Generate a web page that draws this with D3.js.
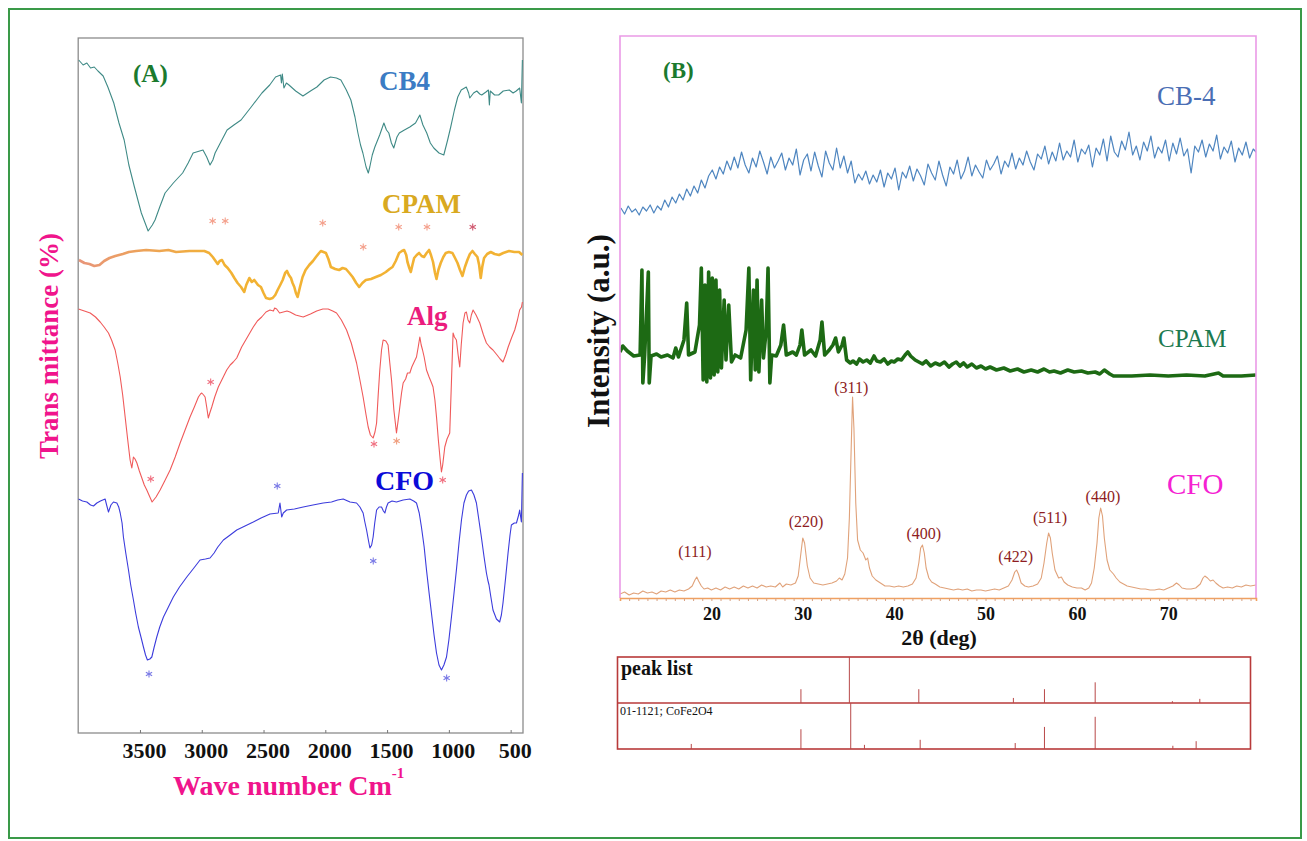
<!DOCTYPE html>
<html><head><meta charset="utf-8">
<script src="https://cdn.jsdelivr.net/npm/d3@7"></script>
<style>body{margin:0;background:#fff}svg{display:block}</style>
</head><body>
<svg id="c" width="1307" height="841"></svg>
<script>
// ---------------- DATA: FTIR (panel A) ----------------
const ftirTicks = [3500,3000,2500,2000,1500,1000,500];
// [wavenumber cm-1, transmittance (a.u., stacked)]
const ftirCB4 = [[3996,675],[3960,670],[3930,672],[3900,667],[3870,668],[3840,664],[3798,659],[3760,648],[3712,632],[3670,612],[3628,595],[3590,570],[3545,548],[3489,522],[3434,504],[3400,510],[3378,515],[3340,528],[3297,542],[3230,552],[3155,562],[3110,572],[3070,582],[2990,585],[2960,578],[2933,570],[2910,575],[2892,582],[2850,592],[2795,605],[2740,610],[2682,615],[2600,628],[2513,642],[2450,650],[2403,658],[2362,660],[2355,652],[2348,661],[2335,647],[2315,652],[2294,650],[2240,644],[2181,639],[2120,644],[2068,648],[2010,655],[1958,658],[1910,657],[1874,655],[1830,645],[1793,635],[1760,618],[1736,602],[1715,590],[1696,582],[1670,568],[1652,562],[1640,568],[1620,580],[1599,588],[1560,600],[1526,612],[1505,605],[1486,602],[1465,592],[1446,587],[1420,598],[1401,602],[1360,605],[1316,608],[1270,612],[1235,620],[1210,610],[1179,602],[1150,592],[1122,587],[1080,582],[1041,580],[1010,595],[985,608],[955,625],[928,638],[900,645],[859,648],[840,642],[831,637],[800,642],[774,644],[750,641],[734,640],[700,643],[680,645],[672,630],[665,644],[630,640],[597,640],[560,644],[511,645],[480,642],[455,644],[427,647],[413,632],[405,675]];
const ftirCPAM = [[3994,475],[3950,472],[3909,471],[3870,469],[3828,470],[3790,474],[3747,477],[3700,479],[3639,481],[3590,483],[3531,484],[3450,485],[3343,484],[3270,485],[3208,483],[3100,484],[2979,484],[2940,482],[2911,478],[2871,471],[2855,474],[2836,475],[2815,470],[2790,467],[2760,462],[2736,457],[2710,452],[2682,448],[2656,443],[2640,450],[2615,457],[2595,453],[2575,455],[2545,450],[2521,448],[2500,442],[2480,437],[2450,436],[2426,437],[2405,440],[2386,445],[2365,450],[2345,455],[2325,462],[2310,464],[2295,460],[2278,457],[2265,452],[2251,448],[2238,442],[2224,438],[2205,448],[2184,458],[2160,465],[2130,470],[2100,474],[2076,478],[2050,482],[2036,484],[2015,483],[1995,482],[1975,476],[1955,468],[1920,466],[1888,465],[1860,467],[1833,466],[1805,462],[1779,458],[1750,452],[1726,448],[1700,452],[1672,455],[1630,456],[1591,458],[1550,460],[1510,463],[1480,466],[1456,468],[1430,474],[1403,482],[1380,484],[1362,485],[1345,480],[1335,473],[1320,467],[1308,463],[1295,470],[1281,477],[1260,480],[1241,482],[1220,479],[1201,478],[1180,482],[1160,485],[1145,480],[1128,473],[1112,462],[1100,456],[1085,465],[1066,472],[1045,478],[1025,482],[1000,483],[971,482],[950,477],[930,472],[910,465],[890,459],[870,468],[850,475],[830,481],[809,484],[790,481],[769,478],[755,470],[742,457],[730,468],[715,477],[690,481],[661,483],[630,481],[594,480],[560,482],[513,484],[470,483],[432,483],[405,480]];
const ftirAlg = [[3998,426],[3950,424],[3903,422],[3860,418],[3822,413],[3790,408],[3755,402],[3730,395],[3701,385],[3680,372],[3660,358],[3640,340],[3620,318],[3600,296],[3580,275],[3566,267],[3553,278],[3540,276],[3525,272],[3505,264],[3485,257],[3465,250],[3445,245],[3420,238],[3402,233],[3370,238],[3337,245],[3300,254],[3256,265],[3215,278],[3175,292],[3135,305],[3095,318],[3060,328],[3027,338],[3010,341],[3000,342],[2985,340],[2973,338],[2960,328],[2947,317],[2935,322],[2919,328],[2895,338],[2866,348],[2830,357],[2798,365],[2770,370],[2745,373],[2717,377],[2677,388],[2630,398],[2583,408],[2550,414],[2515,418],[2480,423],[2448,425],[2420,424],[2410,427],[2394,426],[2370,422],[2340,423],[2310,424],[2286,423],[2240,420],[2179,418],[2120,421],[2070,424],[2020,426],[1977,426],[1940,424],[1909,422],[1870,415],[1828,405],[1790,392],[1747,372],[1720,355],[1694,338],[1670,320],[1653,308],[1635,300],[1613,297],[1598,303],[1585,312],[1572,340],[1559,365],[1545,385],[1532,395],[1510,394],[1492,390],[1478,372],[1464,355],[1445,325],[1424,302],[1410,315],[1397,328],[1383,342],[1370,352],[1350,356],[1335,362],[1316,362],[1300,368],[1285,372],[1262,378],[1248,388],[1235,398],[1224,390],[1213,385],[1200,378],[1181,365],[1160,358],[1140,352],[1128,348],[1113,335],[1100,318],[1085,295],[1070,275],[1060,263],[1050,270],[1033,288],[1015,296],[993,302],[980,350],[966,402],[955,398],[939,395],[925,380],[912,368],[900,390],[885,412],[870,422],[858,423],[845,415],[831,412],[818,420],[804,425],[780,420],[750,412],[720,400],[696,392],[670,388],[643,385],[610,380],[585,376],[562,373],[540,380],[520,388],[508,392],[490,398],[467,405],[445,415],[427,425],[412,428],[405,433]];
const ftirCFO = [[3998,236],[3965,234],[3930,233],[3900,230],[3876,229],[3849,232],[3820,234],[3782,236],[3770,230],[3755,223],[3735,230],[3715,233],[3687,232],[3672,228],[3660,222],[3645,212],[3634,198],[3615,182],[3593,165],[3575,150],[3553,135],[3535,122],[3513,108],[3490,97],[3472,88],[3455,80],[3440,75],[3420,76],[3404,78],[3385,88],[3364,98],[3340,108],[3310,118],[3270,128],[3230,138],[3180,148],[3121,158],[3070,166],[3014,175],[2970,176],[2933,177],[2900,182],[2870,188],[2825,195],[2770,200],[2717,205],[2650,209],[2583,213],[2520,217],[2448,221],[2381,222],[2367,232],[2353,218],[2340,222],[2313,225],[2250,226],[2179,228],[2100,230],[2017,232],[1950,233],[1900,235],[1855,236],[1800,233],[1747,232],[1720,228],[1694,222],[1680,213],[1666,205],[1650,194],[1639,187],[1625,190],[1613,198],[1600,212],[1585,225],[1565,228],[1545,228],[1530,224],[1518,222],[1505,228],[1492,232],[1460,234],[1424,233],[1370,235],[1316,236],[1285,234],[1262,232],[1240,222],[1222,208],[1200,188],[1181,165],[1160,142],[1141,122],[1120,100],[1100,82],[1080,70],[1060,65],[1040,70],[1019,78],[1000,95],[979,118],[960,140],[939,165],[918,192],[898,215],[878,232],[858,240],[840,244],[817,245],[797,240],[777,232],[757,215],[737,198],[715,178],[696,162],[685,155],[675,150],[660,138],[643,125],[615,116],[589,113],[575,120],[562,132],[540,158],[521,182],[505,200],[494,210],[470,212],[453,212],[435,220],[427,225],[413,213],[405,262]];
// asterisk marks [wavenumber, level]
const starsCPAM = [[2912,514],[2810,514],[2021,512],[1693,488],[1406,508],[1177,508],[807,508]];
const starsAlg = [[3413,256],[2928,353],[1606,291],[1423,294],[1050,255]];
const starsCFO = [[3427,61],[2389,249],[1612,174],[1018,57]];

// ---------------- DATA: XRD (panel B) ----------------
const xrdTicks = [20,30,40,50,60,70];
const cb4XrdStart = 10.1, cb4XrdStep = 0.4;
const cb4Xrd = [390,384,392,386,389,383,391,387,393,385,
392,388,398,391,401,395,404,398,409,402,
412,405,418,410,422,428,419,431,424,437,
428,441,430,446,433,425,440,431,447,436,
424,441,430,437,445,428,440,433,449,423,
438,444,427,446,432,421,447,435,428,450,
430,442,425,437,415,424,418,427,414,423,
416,428,411,425,419,430,408,426,420,432,
417,429,422,413,434,425,418,437,423,412,
431,424,438,419,427,441,422,433,426,420,
438,428,434,442,424,437,431,445,429,440,
433,447,436,428,444,439,452,434,446,437,
455,438,447,441,458,436,449,444,453,431,
450,443,459,437,462,446,441,457,448,466,
443,452,438,456,447,462,440,451,445,458,
437,455,444,460,442,449,425,452,446,458,
441,454,447,463,439,451,445,457,436,450,
443,456,440,449,445];
const cpamXrd = [[10.0,246],[10.3,252],[10.8,247],[11.5,242],[12.2,243],[12.4,328],[12.5,215],[12.7,243],[13.1,326],[13.2,215],[13.4,242],[14.0,244],[14.5,241],[15.2,243],[15.8,240],[16.1,250],[16.4,241],[17.0,258],[17.3,295],[17.5,243],[18.2,246],[18.7,273],[18.9,330],[19.1,218],[19.3,313],[19.5,216],[19.7,326],[19.9,220],[20.1,320],[20.3,223],[20.5,318],[20.7,226],[20.9,308],[21.1,230],[21.4,298],[21.6,238],[21.9,293],[22.2,236],[22.6,243],[23.2,240],[23.8,268],[24.1,330],[24.3,218],[24.6,308],[24.8,228],[25.0,318],[25.2,226],[25.5,298],[25.7,240],[26.0,268],[26.2,330],[26.4,215],[26.6,243],[27.1,242],[27.6,253],[27.9,273],[28.2,243],[28.9,246],[29.3,243],[29.7,253],[29.9,268],[30.2,243],[30.9,248],[31.4,242],[31.9,258],[32.1,276],[32.4,243],[32.9,248],[33.3,253],[33.6,260],[33.9,246],[34.3,253],[34.5,260],[34.8,238],[35.2,235],[35.5,237],[35.9,234],[36.2,239],[36.6,236],[37.0,238],[37.4,235],[37.8,242],[38.1,237],[38.5,236],[38.9,239],[39.3,234],[39.7,237],[40.0,236],[40.4,239],[40.8,238],[41.2,243],[41.5,246],[41.8,242],[42.3,238],[42.7,236],[43.1,234],[43.5,237],[44.0,232],[44.5,235],[45.0,233],[45.5,236],[46.0,231],[46.4,234],[46.8,236],[47.2,232],[47.6,235],[48.0,231],[48.5,234],[49.0,230],[49.5,232],[50.0,229],[50.5,231],[51.2,228],[52.0,230],[52.7,227],[53.5,229],[54.2,226],[55.0,228],[55.7,226],[56.4,229],[57.0,226],[57.5,227],[58.2,225],[59.0,228],[59.7,226],[60.5,227],[61.2,225],[62.0,226],[62.5,224],[63.0,228],[63.6,224],[64.0,222],[66.0,222],[68.0,223],[70.0,222],[72.0,223],[74.0,222],[75.5,225],[76.0,222],[78.0,222],[79.6,223]];
const cfoXrd = [[10.0,4],[10.5,6],[11.0,3],[11.5,5],[12.0,4],[12.5,7],[13.0,5],[13.5,6],[14.0,4],[14.5,7],[15.0,6],[15.5,8],[16.0,6],[16.5,8],[17.0,7],[17.5,9],[17.9,12],[18.2,18],[18.4,21],[18.6,17],[18.9,12],[19.2,9],[19.6,10],[20.0,8],[20.5,10],[21.0,8],[21.5,11],[22.0,9],[22.5,11],[23.0,9],[23.5,12],[24.0,10],[24.5,12],[25.0,10],[25.5,13],[26.0,11],[26.5,12],[27.0,11],[27.5,15],[27.8,11],[28.2,14],[28.7,13],[29.2,15],[29.5,22],[29.8,45],[30.0,60],[30.2,55],[30.5,32],[30.8,20],[31.2,15],[31.7,14],[32.2,13],[32.7,14],[33.2,15],[33.7,17],[34.0,20],[34.3,18],[34.6,24],[34.9,40],[35.1,80],[35.3,150],[35.45,201],[35.6,170],[35.8,95],[36.0,58],[36.3,48],[36.6,45],[36.9,38],[37.1,40],[37.3,30],[37.6,22],[38.0,18],[38.5,15],[39.0,12],[39.5,12],[40.0,11],[40.5,12],[41.0,11],[41.5,12],[42.0,14],[42.4,20],[42.7,35],[42.9,50],[43.1,53],[43.3,45],[43.5,30],[43.8,20],[44.1,16],[44.5,14],[45.0,11],[45.5,10],[46.0,9],[46.5,8],[47.0,9],[47.5,8],[48.0,9],[48.5,7],[49.0,8],[49.5,8],[50.0,7],[50.5,8],[51.0,9],[51.5,8],[52.0,10],[52.5,12],[52.9,18],[53.2,26],[53.4,28],[53.6,24],[53.9,15],[54.3,12],[54.7,11],[55.2,12],[55.7,14],[56.1,20],[56.4,35],[56.7,55],[56.9,65],[57.1,60],[57.3,45],[57.6,28],[58.0,20],[58.3,21],[58.6,16],[59.0,13],[59.5,11],[60.0,10],[60.5,10],[60.9,8],[61.3,10],[61.6,15],[61.9,30],[62.2,55],[62.4,80],[62.6,90],[62.8,82],[63.0,60],[63.3,38],[63.6,28],[64.0,24],[64.3,20],[64.7,16],[65.1,14],[65.5,12],[66.0,11],[66.5,10],[67.0,9],[67.5,9],[68.0,8],[68.5,8],[69.0,9],[69.5,8],[70.0,10],[70.5,12],[70.9,15],[71.2,13],[71.5,10],[72.0,9],[72.5,9],[73.0,10],[73.5,14],[73.8,20],[74.0,22],[74.3,20],[74.6,17],[74.9,18],[75.2,15],[75.6,12],[76.0,10],[76.5,11],[77.0,10],[77.5,12],[78.0,11],[78.5,13],[79.0,12],[79.6,13]];
const hklLabels = ["(111)","(220)","(311)","(400)","(422)","(511)","(440)"];
const hklAngle  = [18.2,30.35,35.3,43.25,53.3,57.05,62.85];
const hklLevel  = [41,71,205,59,36,75,96];
// peak list / reference card: [2θ, relative intensity %]
const peakListPos = [29.8,35.1,42.7,53.05,56.45,62.0,70.45,73.45];
const peakListRel = [30,100,30,11,30,45,4,9];
const refPos = [17.8,29.8,35.25,36.75,42.85,53.25,56.45,62.0,70.5,73.05];
const refRel = [11,43,100,9,20,13,48,70,7,17];

// ---------------- DRAW ----------------
const svg = d3.select('#c');
const serif = '"Liberation Serif","Times New Roman",serif';
svg.append('rect').attr('x',0).attr('y',0).attr('width',1307).attr('height',841).attr('fill','#fff');
svg.append('rect').attr('x',9).attr('y',9).attr('width',1292).attr('height',829)
  .attr('fill','none').attr('stroke','#3a9a48').attr('stroke-width',2);

// ---- Panel A ----
const xA = d3.scaleLinear().domain([4000,400]).range([78.2,523]);
const yA = d3.scaleLinear().domain([0,700]).range([735,35]);
const gA = svg.append('g');
const defs = svg.append('defs');
defs.append('clipPath').attr('id','clipA').append('rect').attr('x',78.2).attr('y',38).attr('width',523-78.2).attr('height',733-38);
defs.append('clipPath').attr('id','clipB').append('rect').attr('x',620).attr('y',36).attr('width',636).attr('height',562);
const grad = defs.append('linearGradient').attr('id','cpamGrad').attr('gradientUnits','userSpaceOnUse')
  .attr('x1',78).attr('x2',220).attr('y1',0).attr('y2',0);
grad.append('stop').attr('offset',0).attr('stop-color','#e8957a');
grad.append('stop').attr('offset',1).attr('stop-color','#f2b233');

gA.append('rect').attr('x',78.2).attr('y',38).attr('width',523-78.2).attr('height',733-38)
  .attr('fill','none').attr('stroke','#8c8c8c').attr('stroke-width',1.3);

const lineA = d3.line().x(d=>xA(d[0])).y(d=>yA(d[1]));
const cA = gA.append('g').attr('clip-path','url(#clipA)');
cA.append('path').datum(ftirCB4).attr('d',lineA).attr('fill','none').attr('stroke','#3f8a86').attr('stroke-width',1.1).attr('stroke-linejoin','round');
cA.append('path').datum(ftirCPAM).attr('d',lineA).attr('fill','none').attr('stroke','url(#cpamGrad)').attr('stroke-width',2.6).attr('stroke-linejoin','round');
cA.append('path').datum(ftirAlg).attr('d',lineA).attr('fill','none').attr('stroke','#f05a5a').attr('stroke-width',1.1).attr('stroke-linejoin','round');
cA.append('path').datum(ftirCFO).attr('d',lineA).attr('fill','none').attr('stroke','#3c3cdc').attr('stroke-width',1.1).attr('stroke-linejoin','round');

function star(g, cx, cy, col){
  const r = 3.6;
  [90,30,-30].forEach(a=>{
    const t = a*Math.PI/180;
    g.append('line').attr('x1',cx-r*Math.cos(t)).attr('y1',cy-r*Math.sin(t))
      .attr('x2',cx+r*Math.cos(t)).attr('y2',cy+r*Math.sin(t))
      .attr('stroke',col).attr('stroke-width',1.1);
  });
}
starsCPAM.forEach((d,i)=>star(gA,xA(d[0]),yA(d[1]), i===6?'#d05a70':'#f4a08c'));
starsAlg.forEach((d,i)=>star(gA,xA(d[0]),yA(d[1]), i===3?'#f0a080':'#f07080'));
starsCFO.forEach(d=>star(gA,xA(d[0]),yA(d[1]),'#7b7be6'));

const axA = gA.append('g').attr('transform','translate(0,733)')
  .call(d3.axisBottom(xA).tickValues(ftirTicks).tickSize(-3).tickPadding(9).tickFormat(d3.format('d')));
axA.select('.domain').remove();
axA.selectAll('line').attr('stroke','#777');
axA.selectAll('text').attr('font-family',serif).attr('font-weight','bold').attr('font-size',22).attr('fill','#111').attr('dx',4);

const txt = (x,y,s,size,col,weight)=>svg.append('text').attr('x',x).attr('y',y).text(s)
  .attr('font-family',serif).attr('font-size',size).attr('fill',col).attr('font-weight',weight||'bold');
txt(133,82,'(A)',25,'#1b7a2e');
txt(379,90,'CB4',27,'#3b7cc4');
txt(382,213,'CPAM',27,'#d9a921');
txt(407,325,'Alg',27,'#eb1c7d');
txt(375,490,'CFO',28,'#0b0bd8');
svg.append('text').attr('transform','translate(58,346) rotate(-90)').attr('text-anchor','middle')
  .attr('font-family',serif).attr('font-weight','bold').attr('font-size',27).attr('fill','#f0148c')
  .text('Trans mittance (%)');
const xt = txt(173,795,'Wave number Cm',28,'#f0148c');
xt.append('tspan').attr('dx',0).attr('dy',-17).attr('font-size',15).text('-1');

// ---- Panel B ----
const xB = d3.scaleLinear().domain([10,79.6]).range([620,1256]);
const yB = d3.scaleLinear().domain([0,562]).range([598,36]);
const gB = svg.append('g');
const lineB = d3.line().x(d=>xB(d[0])).y(d=>yB(d[1]));
const cB = gB.append('g').attr('clip-path','url(#clipB)');
const cb4Pts = cb4Xrd.map((v,i)=>[cb4XrdStart+i*cb4XrdStep, v]);
cB.append('path').datum(cb4Pts).attr('d',lineB).attr('fill','none').attr('stroke','#4f86c0').attr('stroke-width',1.2).attr('stroke-linejoin','round');
cB.append('path').datum(cpamXrd).attr('d',lineB).attr('fill','none').attr('stroke','#1d6a14').attr('stroke-width',3.6).attr('stroke-linejoin','round');
cB.append('path').datum(cfoXrd).attr('d',lineB).attr('fill','none').attr('stroke','#e0a27a').attr('stroke-width',1.1).attr('stroke-linejoin','round');

gB.append('path').attr('d','M620,598V36H1256V598').attr('fill','none').attr('stroke','#ea9ae6').attr('stroke-width',1.6);
const axB = gB.append('g').attr('transform','translate(0,598)')
  .call(d3.axisBottom(xB).tickValues(d3.range(11,80)).tickSize(3).tickPadding(6)
    .tickFormat(d=>xrdTicks.includes(d)?d:''));
axB.select('.domain').attr('stroke','#f0a060').attr('stroke-width',1.6);
axB.selectAll('line').attr('stroke','#d8a080');
axB.selectAll('text').attr('font-family',serif).attr('font-weight','bold').attr('font-size',18).attr('fill','#111');

hklLabels.forEach((s,i)=>{
  gB.append('text').attr('x',xB(hklAngle[i])).attr('y',yB(hklLevel[i])).attr('text-anchor','middle')
    .attr('font-family',serif).attr('font-size',16).attr('fill','#8e1c22').text(s);
});
txt(663,78,'(B)',23,'#1b7a2e');
txt(1157,105,'CB-4',27,'#4a6eb4','normal');
txt(1158,347,'CPAM',25,'#1c7a50','normal');
txt(1167,494,'CFO',29,'#f522d2','normal');
svg.append('text').attr('transform','translate(609,331) rotate(-90)').attr('text-anchor','middle')
  .attr('font-family',serif).attr('font-weight','bold').attr('font-size',31).attr('fill','#111')
  .text('Intensity (a.u.)');
svg.append('text').attr('x',939).attr('y',645).attr('text-anchor','middle')
  .attr('font-family',serif).attr('font-weight','bold').attr('font-size',22).attr('fill','#111').text('2θ (deg)');

// ---- peak list box ----
const gP = svg.append('g');
const rowH = d3.scaleLinear().domain([0,100]).range([0,46]);
gP.append('rect').attr('x',617.5).attr('y',657).attr('width',1250.5-617.5).attr('height',92)
  .attr('fill','none').attr('stroke','#b83a3a').attr('stroke-width',1.6);
gP.append('line').attr('x1',617.5).attr('x2',1250.5).attr('y1',703).attr('y2',703).attr('stroke','#b83a3a').attr('stroke-width',1.4);
gP.selectAll('.pl').data(peakListPos).enter().append('line')
  .attr('x1',d=>xB(d)).attr('x2',d=>xB(d)).attr('y1',703).attr('y2',(d,i)=>703-rowH(peakListRel[i]))
  .attr('stroke','#b84848').attr('stroke-width',1);
gP.selectAll('.rf').data(refPos).enter().append('line')
  .attr('x1',d=>xB(d)).attr('x2',d=>xB(d)).attr('y1',749).attr('y2',(d,i)=>749-rowH(refRel[i]))
  .attr('stroke','#b84848').attr('stroke-width',1);
txt(621,675,'peak list',20,'#111');
txt(620,715,'01-1121; CoFe2O4',12,'#111','normal');
</script>
</body></html>
